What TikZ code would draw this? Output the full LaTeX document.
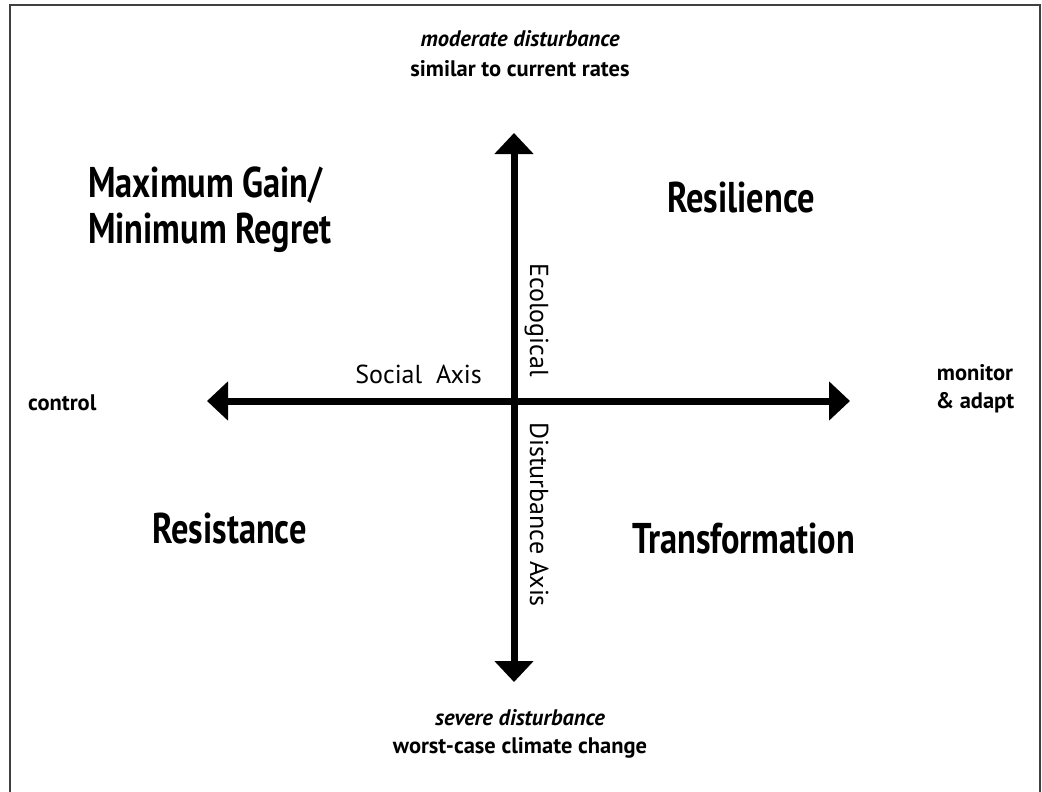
\documentclass[tikz,border=0pt]{standalone}
\usepackage{fontspec}
\setmainfont{PT Sans}
\newfontfamily\condfont{PT Sans}[FakeStretch=0.8]
\usetikzlibrary{arrows.meta}
\begin{document}
\begin{tikzpicture}[x=1pt,y=-1pt,
  quad/.style={font=\condfont\fontsize{43}{46}\selectfont\bfseries, align=left, inner sep=0},
  side/.style={font=\fontsize{22.5}{28}\selectfont\bfseries, align=center, inner sep=0},
  axislabel/.style={font=\fontsize{26}{30}\selectfont, inner sep=0},
  axis/.style={line width=7pt, {Triangle[length=21pt,width=38pt]}-{Triangle[length=21pt,width=38pt]}}]
\useasboundingbox (0,0) rectangle (1042,792);
% frame
\draw[line width=2pt, black!75] (10,792) -- (10,5) -- (1040,5) -- (1040,792);

% axis end points
\coordinate (west) at (207,401);
\coordinate (east) at (850,401);
\coordinate (north) at (514,133);
\coordinate (south) at (514,682);
\draw[axis] (west) -- (east);
\draw[axis] (north) -- (south);

% axis labels
\node[axislabel, anchor=base east] (soc) at (482,383) {Social\ \ Axis};
\node[axislabel, anchor=base west, rotate=-90] (eco) at (530,263) {Ecological};
\node[axislabel, anchor=base west, rotate=-90] (dist) at (530,422) {Disturbance Axis};

% quadrants
\node[quad, anchor=base west] (gain) at (88,243) {Maximum Gain/\\Minimum Regret};
\node[quad, anchor=base west] (res) at (667,212) {Resilience};
\node[quad, anchor=base west] (rst) at (152,543) {Resistance};
\node[quad, anchor=base west] (trf) at (632,553) {Transformation};

% axis ends
\node[side, anchor=base] (top1) at (520,47) {\itshape moderate disturbance};
\node[side, anchor=base] (top2) at (520,77) {similar to current rates};
\node[side, anchor=base] (bot1) at (520,725) {\itshape severe disturbance};
\node[side, anchor=base] (bot2) at (520,753) {worst-case climate change};
\node[side, anchor=base west] (ctl) at (28,410) {control};
\node[side, anchor=base] (mon1) at (975,380) {monitor};
\node[side, anchor=base] (mon2) at (975,408) {\& adapt};
\end{tikzpicture}
\end{document}
